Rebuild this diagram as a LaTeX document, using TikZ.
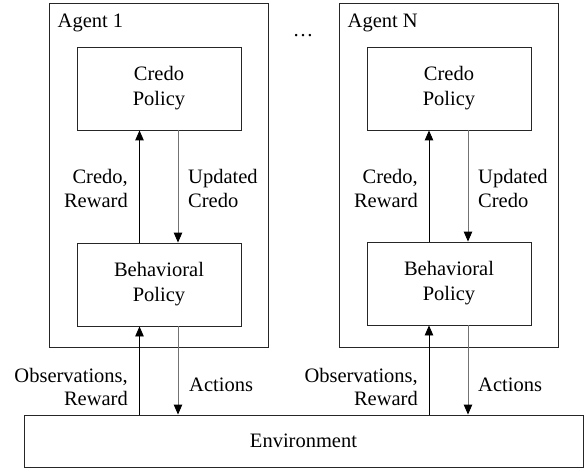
\documentclass[tikz,border=0pt]{standalone}
\usepackage{fontspec}
\setmainfont{Liberation Serif}
\newfontfamily\serifx{Liberation Serif}
\usetikzlibrary{arrows.meta,calc}
\begin{document}
\begin{tikzpicture}[x=1pt,y=-1pt,
  box/.style={draw=black!85,line width=0.9pt,minimum width=164pt,minimum height=83pt,align=center,inner sep=0pt,font=\serifx\fontsize{20.5}{25}\selectfont},
  agentbox/.style={draw=black!85,line width=0.9pt,minimum width=219pt,minimum height=344pt,inner sep=0pt},
  lbl/.style={inner sep=0pt,font=\serifx\fontsize{20.5}{23.5}\selectfont},
  uparr/.style={draw=black,line width=0.9pt,-{Triangle[length=10pt,width=8.5pt]}},
  dnarr/.style={draw=black!55,line width=0.9pt,-{Triangle[length=10pt,width=8.5pt,fill=black,color=black]}}]
\useasboundingbox (0,0) rectangle (586,468);
\node[agentbox] (a1) at (158.5,175.3) {};
\node[agentbox] (aN) at (448.5,175.3) {};
\node[box] (c1) at (159,88.5) {Credo\\Policy};
\node[box] (b1) at (159,284.5) {Behavioral\\Policy};
\node[box] (cN) at (449,88.5) {Credo\\Policy};
\node[box] (bN) at (449,283.5) {Behavioral\\Policy};
\node[draw=black!85,line width=0.9pt,minimum width=559pt,minimum height=52pt,inner sep=0pt,font=\serifx\fontsize{20.5}{24}\selectfont] (env) at (303.5,441) {Environment};
\node[lbl,anchor=west] (t1) at (57.5,22.5) {Agent 1};
\node[lbl,anchor=west] (tN) at (347.5,22.5) {Agent N};
\node[lbl,anchor=base] (dots) at (303,37) {\dots};
% agent 1 arrows
\coordinate (u1b) at ([xshift=-19.5pt]b1.north);
\coordinate (u1c) at ([xshift=-19.5pt]c1.south);
\coordinate (d1c) at ([xshift=19pt]c1.south);
\coordinate (d1b) at ([xshift=19pt]b1.north);
\draw[uparr] (u1b) -- (u1c);
\draw[dnarr] (d1c) -- (d1b);
\coordinate (e1u) at ([xshift=-19.5pt]b1.south);
\coordinate (e1d) at ([xshift=19pt]b1.south);
\draw[uparr] (env.north -| e1u) -- (e1u);
\draw[dnarr] (e1d) -- (env.north -| e1d);
% agent N arrows
\coordinate (uNb) at ([xshift=-20pt]bN.north);
\coordinate (uNc) at ([xshift=-20pt]cN.south);
\coordinate (dNc) at ([xshift=19pt]cN.south);
\coordinate (dNb) at ([xshift=19pt]bN.north);
\draw[uparr] (uNb) -- (uNc);
\draw[dnarr] (dNc) -- (dNb);
\coordinate (eNu) at ([xshift=-20pt]bN.south);
\coordinate (eNd) at ([xshift=19pt]bN.south);
\draw[uparr] (env.north -| eNu) -- (eNu);
\draw[dnarr] (eNd) -- (env.north -| eNd);
% labels
\node[lbl,align=right,anchor=east] (l1a) at (128,188.5) {Credo,\\Reward};
\node[lbl,align=left,anchor=west] (l1b) at (188,188.5) {Updated\\Credo};
\node[lbl,align=right,anchor=east] (l1c) at (128,387) {Observations,\\Reward};
\node[lbl,align=left,anchor=west] (l1d) at (189,385) {Actions};
\node[lbl,align=right,anchor=east] (lNa) at (418,188.5) {Credo,\\Reward};
\node[lbl,align=left,anchor=west] (lNb) at (478,188.5) {Updated\\Credo};
\node[lbl,align=right,anchor=east] (lNc) at (418,387) {Observations,\\Reward};
\node[lbl,align=left,anchor=west] (lNd) at (478,385) {Actions};
\end{tikzpicture}
\end{document}
